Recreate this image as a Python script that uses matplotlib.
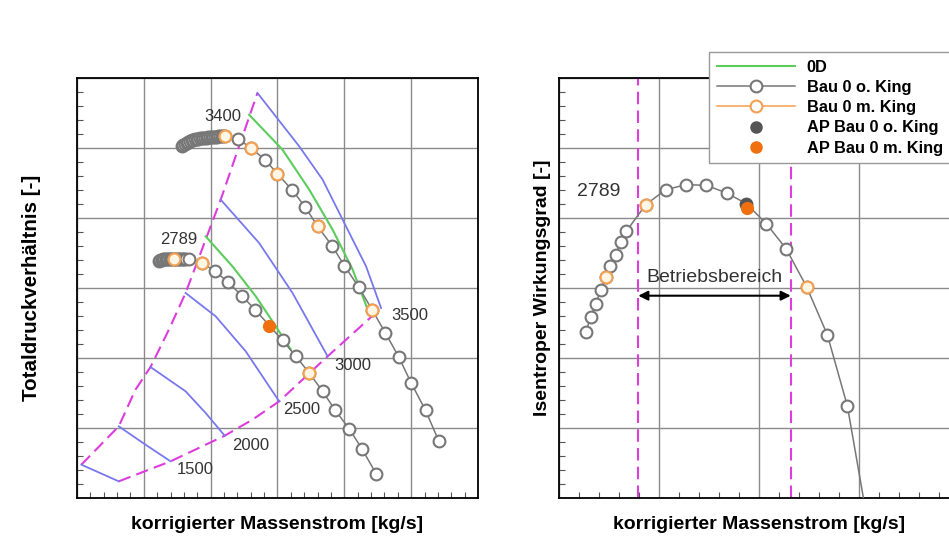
import matplotlib
matplotlib.use("Agg")
import matplotlib.pyplot as plt
from matplotlib.lines import Line2D
from matplotlib.ticker import MultipleLocator, AutoMinorLocator

plt.rcParams['font.family'] = ['Liberation Sans', 'DejaVu Sans']

# ---- left: compressor map (total pressure ratio vs corrected mass flow) ----
surge_x = [0.065, 0.625, 0.875, 1.1, 1.375, 1.625, 2.15, 2.7]
surge_y = [0.476, 1.024, 1.548, 1.871, 2.405, 2.929, 4.262, 5.786]
choke_x = [0.625, 1.4, 2.21, 2.625, 3.025, 3.75, 4.55]
choke_y = [0.238, 0.524, 0.89, 1.119, 1.381, 2.024, 2.714]

# constant speed lines (0D map)
speed_lines = {
    '1000': ([0.065, 0.625], [0.476, 0.238]),
    '1500': ([0.625, 1.025, 1.4], [1.024, 0.762, 0.524]),
    '2000': ([1.1, 1.625, 1.925, 2.21], [1.871, 1.524, 1.214, 0.89]),
    '2500': ([1.625, 2.075, 2.525, 3.025], [2.929, 2.595, 2.095, 1.381]),
    '3000': ([2.15, 2.725, 3.225, 3.75], [4.262, 3.643, 2.929, 2.024]),
    '3500': ([2.7, 3.325, 3.675, 3.925, 4.325, 4.55], [5.786, 5.024, 4.548, 4.071, 3.31, 2.714]),
}
speed_labels = ['1500', '2000', '2500', '3000', '3500']
speed_label_x = [1.775, 2.6, 3.365, 4.125, 4.975]
speed_label_y = [0.40, 0.75, 1.26, 1.90, 2.60]

green_3400_x = [2.575, 3.075, 3.475, 3.825, 4.125, 4.35]
green_3400_y = [5.476, 4.976, 4.405, 3.833, 3.262, 2.69]
green_2789_x = [1.925, 2.325, 2.675, 2.975, 3.2]
green_2789_y = [3.738, 3.31, 2.881, 2.452, 2.119]

gray_3400_x = [1.565, 1.59, 1.615, 1.64, 1.665, 1.69, 1.715, 1.74, 1.765, 1.79, 1.815,
               1.84, 1.865, 1.89, 1.915, 1.94, 1.965, 1.99, 2.015, 2.04, 2.065, 2.09,
               2.115, 2.14, 2.165, 2.19, 2.215, 2.415, 2.6, 2.815, 3.0, 3.215, 3.415,
               3.6, 3.815, 4.0, 4.215, 4.415, 4.615, 4.815, 5.0, 5.215, 5.415]
gray_3400_y = [5.024, 5.043, 5.062, 5.076, 5.09, 5.1, 5.11, 5.117, 5.124, 5.129, 5.133,
               5.138, 5.143, 5.145, 5.148, 5.15, 5.152, 5.155, 5.157, 5.16, 5.162, 5.164,
               5.167, 5.169, 5.171, 5.174, 5.176, 5.129, 5.0, 4.833, 4.628, 4.405, 4.157,
               3.881, 3.605, 3.319, 3.014, 2.69, 2.357, 2.014, 1.643, 1.252, 0.81]
orange_3400_x = [2.215, 2.6, 3.0, 3.6, 4.415]
orange_3400_y = [5.176, 5.0, 4.628, 3.881, 2.69]

gray_2789_x = [1.225, 1.245, 1.265, 1.285, 1.305, 1.325, 1.345, 1.365, 1.385, 1.405,
               1.425, 1.445, 1.465, 1.485, 1.505, 1.525, 1.545, 1.565, 1.585, 1.605,
               1.625, 1.675, 1.875, 2.065, 2.265, 2.465, 2.665, 3.075, 3.275, 3.475,
               3.675, 3.865, 4.075, 4.265, 4.475]
gray_2789_y = [3.381, 3.395, 3.405, 3.408, 3.41, 3.412, 3.414, 3.416, 3.419, 3.419,
               3.419, 3.419, 3.419, 3.419, 3.419, 3.419, 3.419, 3.419, 3.419, 3.419,
               3.419, 3.419, 3.357, 3.238, 3.081, 2.89, 2.69, 2.252, 2.024, 1.786,
               1.524, 1.252, 0.986, 0.7, 0.348]
orange_2789_x = [1.45, 1.875, 3.475]
orange_2789_y = [3.419, 3.357, 1.786]
ap_left_x, ap_left_y = 2.875, 2.462

# ---- right: isentropic efficiency at 2789 ----
eff_x = [0.267, 0.317, 0.367, 0.417, 0.467, 0.51, 0.567, 0.617, 0.673, 0.867, 1.067,
         1.273, 1.473, 1.677, 1.873, 2.073, 2.273, 2.477, 2.683, 2.883, 3.117]
eff_y = [2.367, 2.586, 2.776, 2.967, 3.157, 3.31, 3.476, 3.657, 3.81, 4.19, 4.405,
         4.476, 4.467, 4.357, 4.205, 3.919, 3.557, 3.014, 2.333, 1.319, -0.595]
eff_orange_x = [0.467, 0.867, 2.477]
eff_orange_y = [3.157, 4.19, 3.014]
ap_gray_r = (1.873, 4.205)
ap_orange_r = (1.883, 4.143)
range_lo, range_hi = 0.793, 2.317

C_GRAY = '#777777'
C_OR = '#f5a050'
C_MAG = '#dd3ddd'
C_BLUE = '#7878ee'
C_GREEN = '#5ccc5c'
gray_kw = dict(color=C_GRAY, lw=1.1, marker='o', ms=8.5, mfc='white', mec=C_GRAY, mew=1.5)
orange_mk = dict(ls='none', marker='o', ms=8.5, mfc='#fff6e6', mec=C_OR, mew=1.5)
dash = (0, (6, 3))

fig = plt.figure(figsize=(9.49, 5.38), dpi=100)
ax1 = fig.add_axes([77 / 949, 40 / 538, 401 / 949, 420 / 538])
ax2 = fig.add_axes([559 / 949, 40 / 538, 400 / 949, 420 / 538])


def style(ax, xmax):
    ax.set_xlim(0, xmax)
    ax.set_ylim(0, 6)
    ax.xaxis.set_major_locator(MultipleLocator(1))
    ax.yaxis.set_major_locator(MultipleLocator(1))
    ax.xaxis.set_minor_locator(AutoMinorLocator(5))
    ax.yaxis.set_minor_locator(AutoMinorLocator(5))
    ax.tick_params(which='both', direction='in', labelleft=False, labelbottom=False,
                   top=False, right=False, color='#555555')
    ax.tick_params(which='major', length=0)
    ax.tick_params(which='minor', length=4, width=0.8)
    ax.grid(True, which='major', color='#8a8a8a', lw=1.0)
    ax.set_axisbelow(True)
    for s in ax.spines.values():
        s.set_linewidth(1.3)


style(ax1, 6)
style(ax2, 4)

# left map
ax1.plot(surge_x, surge_y, color=C_MAG, lw=1.5, ls=dash)
ax1.plot(choke_x, choke_y, color=C_MAG, lw=1.5, ls=dash)
for xs, ys in speed_lines.values():
    ax1.plot(xs, ys, color=C_BLUE, lw=1.3)
for lab, x, y in zip(speed_labels, speed_label_x, speed_label_y):
    ax1.text(x, y, lab, fontsize=12, color='#333333', ha='center', va='center')
ax1.plot(green_3400_x, green_3400_y, color=C_GREEN, lw=1.5)
ax1.plot(green_2789_x, green_2789_y, color=C_GREEN, lw=1.5)
ax1.plot(gray_3400_x, gray_3400_y, **gray_kw, zorder=3)
ax1.plot(gray_2789_x, gray_2789_y, **gray_kw, zorder=3)
ax1.plot(orange_3400_x, orange_3400_y, **orange_mk, zorder=4)
ax1.plot(orange_2789_x, orange_2789_y, **orange_mk, zorder=4)
ax1.plot(ap_left_x, ap_left_y, 'o', color='#f07010', ms=8.5, zorder=5)
ax1.text(2.175, 5.45, '3400', fontsize=12, color='#333333', ha='center', va='center')
ax1.text(1.515, 3.70, '2789', fontsize=12, color='#333333', ha='center', va='center')
ax1.set_xlabel('korrigierter Massenstrom [kg/s]', fontsize=14, fontweight='bold', labelpad=13)
ax1.set_ylabel('Totaldruckverhältnis [-]', fontsize=14.8, fontweight='bold', labelpad=26)

# right efficiency
ax2.axvline(range_lo, color=C_MAG, lw=1.5, ls=dash)
ax2.axvline(range_hi, color=C_MAG, lw=1.5, ls=dash)
ax2.plot(eff_x, eff_y, **gray_kw, zorder=3)
ax2.plot(eff_orange_x, eff_orange_y, **orange_mk, zorder=4)
ax2.plot(*ap_gray_r, 'o', color='#555555', ms=8.5, zorder=5)
ax2.plot(*ap_orange_r, 'o', color='#f07010', ms=8.5, zorder=6)
ax2.annotate('', xy=(range_hi, 2.89), xytext=(range_lo, 2.89),
             arrowprops=dict(arrowstyle='<|-|>', color='black', lw=1.5,
                             shrinkA=0, shrinkB=0, mutation_scale=14))
ax2.text(1.55, 3.15, 'Betriebsbereich', fontsize=14, color='#333333', ha='center', va='center')
ax2.text(0.4, 4.38, '2789', fontsize=14, color='#333333', ha='center', va='center')
ax2.set_xlabel('korrigierter Massenstrom [kg/s]', fontsize=14, fontweight='bold', labelpad=13)
ax2.set_ylabel('Isentroper Wirkungsgrad [-]', fontsize=14, fontweight='bold', labelpad=6)

handles = [
    Line2D([], [], color=C_GREEN, lw=1.5),
    Line2D([], [], **gray_kw),
    Line2D([], [], color=C_OR, lw=1.1, marker='o', ms=8.5, mfc='white', mec=C_OR, mew=1.5),
    Line2D([], [], ls='none', marker='o', color='#555555', ms=8),
    Line2D([], [], ls='none', marker='o', color='#f07010', ms=8),
]
labels = ['0D', 'Bau 0 o. King', 'Bau 0 m. King', 'AP Bau 0 o. King', 'AP Bau 0 m. King']
leg = fig.legend(handles, labels, loc='upper left', bbox_to_anchor=(701 / 949, 1 - 44 / 538),
                 prop=dict(size=11.8, weight='bold'), handlelength=4.8, handletextpad=0.7,
                 labelspacing=0.32, borderpad=0.45, frameon=True, fancybox=False,
                 edgecolor='#999999', framealpha=1)
leg.get_frame().set_linewidth(1.0)
leg.set_zorder(10)

fig.savefig('out.png', dpi=100)
